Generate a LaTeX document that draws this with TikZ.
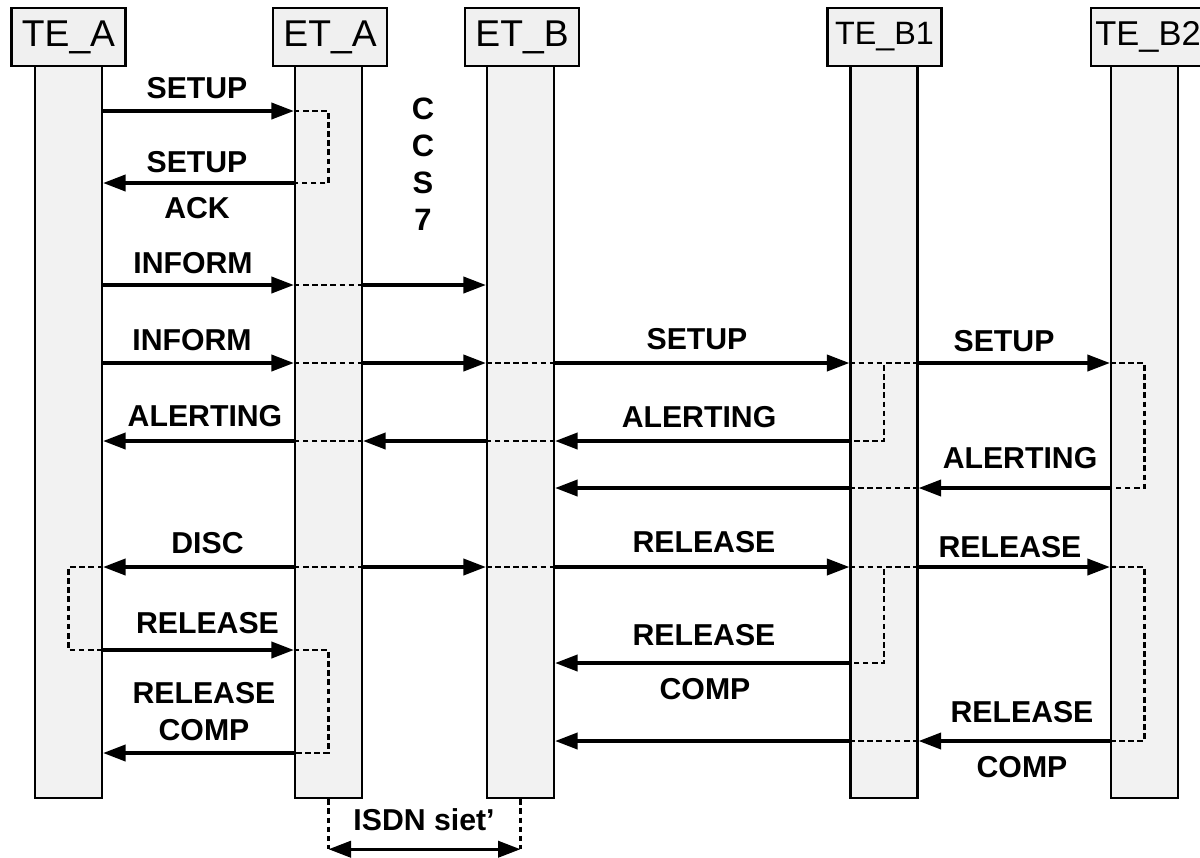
\documentclass[tikz,border=0pt]{standalone}
\usepackage{fontspec}
\setmainfont{Liberation Sans}
\usetikzlibrary{arrows.meta}

\begin{document}
\begin{tikzpicture}[x=0.025cm, y=-0.025cm,
 lifebox/.style={draw, line width=1.6pt, fill=gray!10, minimum width=1.675cm, minimum height=18.3cm, inner sep=0pt},
 headbox/.style={draw, line width=1.6pt, fill=gray!12, minimum width=2.85cm, minimum height=1.45cm, inner sep=0pt, font=\fontsize{26.5}{30}\selectfont},
 msg/.style={line width=2.4pt, -{Triangle[length=16pt, width=11.5pt]}},
 wire/.style={line width=2.4pt},
 dots/.style={line width=2pt, dash pattern=on 4pt off 2.5pt},
 lbl/.style={font=\fontsize{21.5}{24}\bfseries\selectfont, inner sep=0pt}]
 \useasboundingbox (0,0) rectangle (1200,857);

 \node[lifebox] (tea) at (68.5,432) {};
 \node[lifebox] (eta) at (328.5,432) {};
 \node[lifebox] (etb) at (520.5,432) {};
 \node[lifebox] (teb1) at (884,432) {};
 \node[lifebox] (teb2) at (1144.5,432) {};

 \node[headbox] (tea-h) at (68.5,37) {TE\_A};
 \node[headbox] (eta-h) at (330,37) {ET\_A};
 \node[headbox] (etb-h) at (522,37) {ET\_B};
 \node[headbox, font=\fontsize{23}{26}\selectfont] (teb1-h) at (884.5,37) {TE\_B1};
 \node[headbox, font=\fontsize{24.5}{26}\selectfont] (teb2-h) at (1148,37) {TE\_B2};

 \coordinate (m1) at (0,111);
 \coordinate (m2) at (0,183);
 \coordinate (m3) at (0,285);
 \coordinate (m4) at (0,363);
 \coordinate (m5) at (0,441);
 \coordinate (m6) at (0,488);
 \coordinate (m7) at (0,567);
 \coordinate (m8) at (0,650);
 \coordinate (m9) at (0,663);
 \coordinate (m10) at (0,741);
 \coordinate (m11) at (0,753);

 \draw[dots] (eta.west |- m1) -| (eta.center |- m2) -- (eta.west |- m2);
 \draw[msg] (tea.east |- m1) -- (eta.west |- m1);
 \draw[msg] (eta.west |- m2) -- (tea.east |- m2);

 \draw[msg] (tea.east |- m3) -- (eta.west |- m3);
 \draw[dots] (eta.west |- m3) -- (eta.east |- m3);
 \draw[msg] (eta.east |- m3) -- (etb.west |- m3);

 \draw[msg] (tea.east |- m4) -- (eta.west |- m4);
 \draw[dots] (eta.west |- m4) -- (eta.east |- m4);
 \draw[msg] (eta.east |- m4) -- (etb.west |- m4);
 \draw[dots] (etb.west |- m4) -- (etb.east |- m4);
 \draw[msg] (etb.east |- m4) -- (teb1.west |- m4);
 \draw[dots] (teb1.west |- m4) -- (teb1.east |- m4);
 \draw[msg] (teb1.east |- m4) -- (teb2.west |- m4);
 \draw[dots] (teb1.west |- m4) -| (teb1.center |- m5) -- (teb1.west |- m5);
 \draw[dots] (teb2.west |- m4) -| (teb2.center |- m6) -- (teb2.west |- m6);

 \draw[msg] (teb1.west |- m5) -- (etb.east |- m5);
 \draw[dots] (etb.east |- m5) -- (etb.west |- m5);
 \draw[msg] (etb.west |- m5) -- (eta.east |- m5);
 \draw[dots] (eta.east |- m5) -- (eta.west |- m5);
 \draw[msg] (eta.west |- m5) -- (tea.east |- m5);

 \draw[msg] (teb2.west |- m6) -- (teb1.east |- m6);
 \draw[dots] (teb1.east |- m6) -- (teb1.west |- m6);
 \draw[msg] (teb1.west |- m6) -- (etb.east |- m6);

 \draw[dots] (tea.east |- m7) -| (tea.center |- m8) -- (tea.east |- m8);
 \draw[msg] (eta.west |- m7) -- (tea.east |- m7);
 \draw[dots] (eta.west |- m7) -- (eta.east |- m7);
 \draw[msg] (eta.east |- m7) -- (etb.west |- m7);
 \draw[dots] (etb.west |- m7) -- (etb.east |- m7);
 \draw[msg] (etb.east |- m7) -- (teb1.west |- m7);
 \draw[dots] (teb1.west |- m7) -- (teb1.east |- m7);
 \draw[msg] (teb1.east |- m7) -- (teb2.west |- m7);
 \draw[dots] (teb1.west |- m7) -| (teb1.center |- m9) -- (teb1.west |- m9);
 \draw[dots] (teb2.west |- m7) -| (teb2.center |- m10) -- (teb2.west |- m10);

 \draw[dots] (eta.west |- m8) -| (eta.center |- m11) -- (eta.west |- m11);
 \draw[msg] (tea.east |- m8) -- (eta.west |- m8);
 \draw[msg] (teb1.west |- m9) -- (etb.east |- m9);
 \draw[msg] (teb2.west |- m10) -- (teb1.east |- m10);
 \draw[dots] (teb1.east |- m10) -- (teb1.west |- m10);
 \draw[msg] (teb1.west |- m10) -- (etb.east |- m10);
 \draw[msg] (eta.west |- m11) -- (tea.east |- m11);

 \node[lbl] (l-setup1) at (197,88) {SETUP};
 \node[lbl] (l-setup2) at (197,162) {SETUP};
 \node[lbl] (l-ack) at (197,208) {ACK};
 \node[lbl] (l-inform1) at (193,263) {INFORM};
 \node[lbl] (l-inform2) at (192,340) {INFORM};
 \node[lbl] (l-setup3) at (697,339) {SETUP};
 \node[lbl] (l-setup4) at (1004,341) {SETUP};
 \node[lbl] (l-alert1) at (205,416) {ALERTING};
 \node[lbl] (l-alert2) at (699,417) {ALERTING};
 \node[lbl] (l-alert3) at (1020,458) {ALERTING};
 \node[lbl] (l-disc) at (207.5,543) {DISC};
 \node[lbl] (l-rel1) at (704,542) {RELEASE};
 \node[lbl] (l-rel2) at (1010,547) {RELEASE};
 \node[lbl] (l-rel3) at (207.5,623) {RELEASE};
 \node[lbl] (l-rel4) at (704,635) {RELEASE};
 \node[lbl] (l-comp4) at (705,689) {COMP};
 \node[lbl] (l-rel5) at (204,693) {RELEASE};
 \node[lbl] (l-comp5) at (204,730) {COMP};
 \node[lbl] (l-rel6) at (1022,712) {RELEASE};
 \node[lbl] (l-comp6) at (1022,767) {COMP};

 \node[lbl, align=center, font=\fontsize{22}{26.2}\bfseries\selectfont] (ccs) at (423,164) {C\\C\\S\\7};

 \draw[dots] (eta.south) -- ++(0,50) coordinate (isdn-a);
 \draw[dots] (etb.south) -- ++(0,50) coordinate (isdn-b);
 \draw[wire, {Triangle[length=16pt, width=11.5pt]}-{Triangle[length=16pt, width=11.5pt]}] (isdn-a) -- (isdn-b);
 \node[lbl] (l-isdn) at (424,820) {ISDN siet’};
\end{tikzpicture}
\end{document}
